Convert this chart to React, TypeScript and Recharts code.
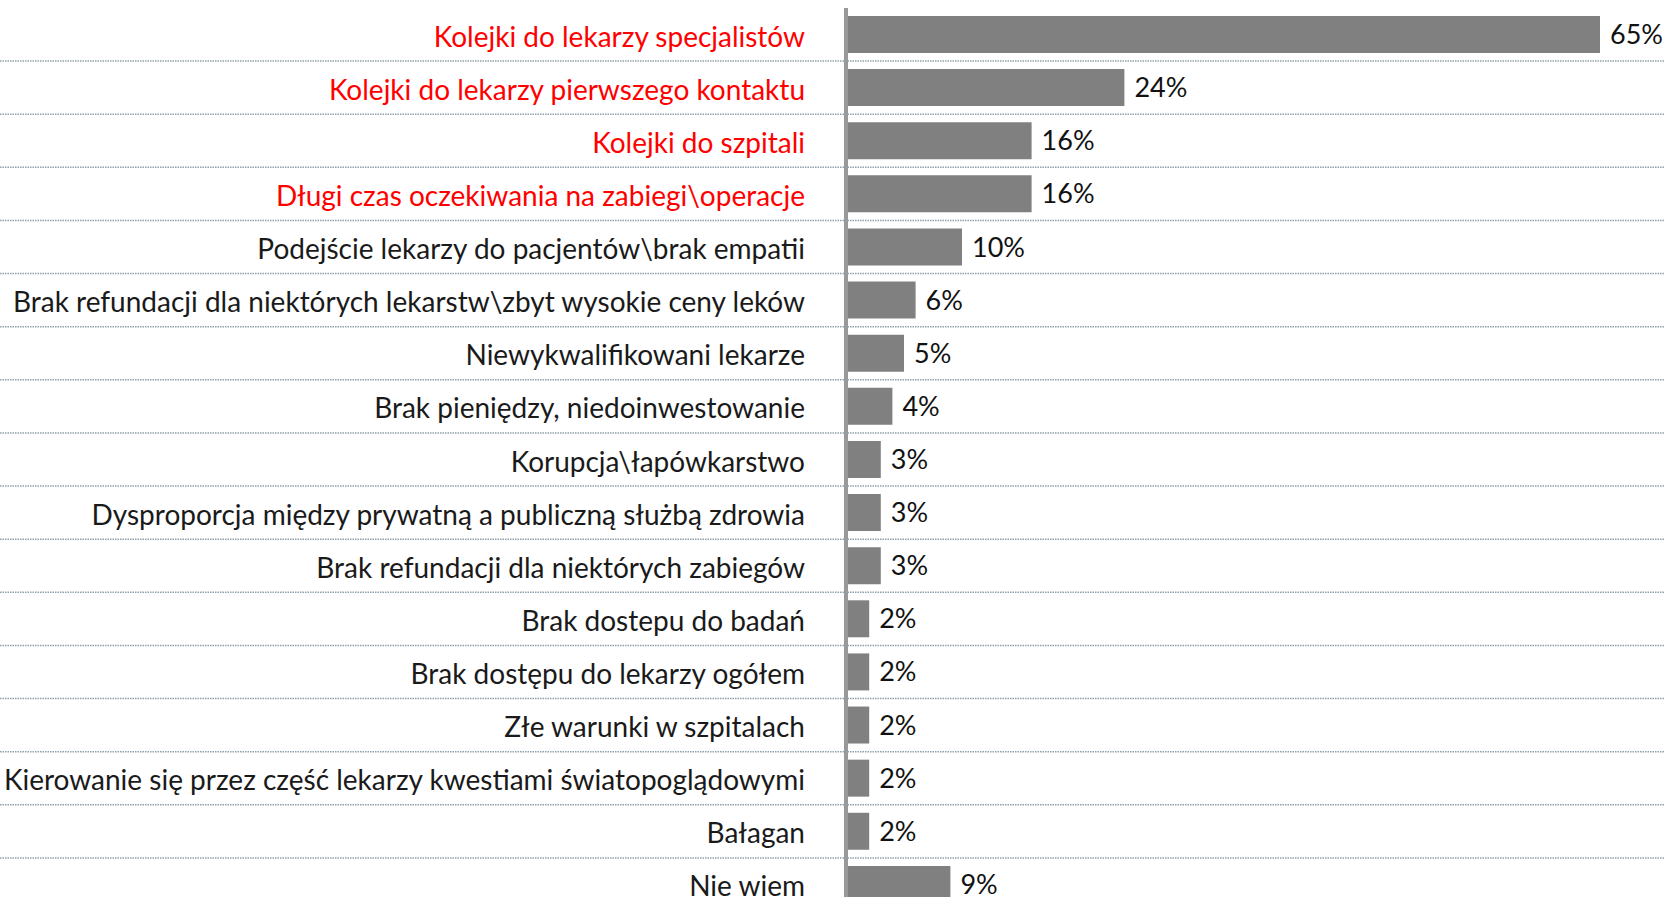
import { BarChart, Bar, XAxis, YAxis, LabelList } from "recharts";

const categories = [
  "Kolejki do lekarzy specjalistów",
  "Kolejki do lekarzy pierwszego kontaktu",
  "Kolejki do szpitali",
  "Długi czas oczekiwania na zabiegi\\operacje",
  "Podejście lekarzy do pacjentów\\brak empatii",
  "Brak refundacji dla niektórych lekarstw\\zbyt wysokie ceny leków",
  "Niewykwalifikowani lekarze",
  "Brak pieniędzy, niedoinwestowanie",
  "Korupcja\\łapówkarstwo",
  "Dysproporcja między prywatną a publiczną służbą zdrowia",
  "Brak refundacji dla niektórych zabiegów",
  "Brak dostepu do badań",
  "Brak dostępu do lekarzy ogółem",
  "Złe warunki w szpitalach",
  "Kierowanie się przez część lekarzy kwestiami światopoglądowymi",
  "Bałagan",
  "Nie wiem",
];

// share of answers, %
const shares = [65, 24, 16, 16, 10, 6, 5, 4, 3, 3, 3, 2, 2, 2, 2, 2, 9];
const valueLabels = shares.map((v) => `${v}%`);

// first four categories are highlighted in the original
const highlighted = 4;

const data = categories.map((name, i) => ({
  name,
  value: shares[i],
  label: valueLabels[i],
}));

const W = 1665;
const H = 911;
const TOP = 8;
const rowH = (H - TOP) / categories.length;
const FONT = "Lato, 'DejaVu Sans', sans-serif";

function CategoryTick(props: any) {
  const { x, y, payload, index } = props;
  const sepY = y + rowH / 2;
  return (
    <g>
      <line
        x1={0}
        x2={W}
        y1={sepY}
        y2={sepY}
        stroke="#8fa1a8"
        strokeWidth={1.5}
        strokeDasharray="1.5 1"
      />
      <text
        x={x - 41}
        y={y}
        dy={12}
        textAnchor="end"
        fontSize={28}
        fontFamily={FONT}
        fill={index < highlighted ? "#ff0000" : "#1a1a1a"}
      >
        {payload.value}
      </text>
    </g>
  );
}

export default function App() {
  return (
    <div
      style={{
        position: "absolute",
        left: 0,
        top: 0,
        width: W,
        height: 897,
        overflow: "hidden",
        background: "#fff",
      }}
    >
      <BarChart
        width={W}
        height={H}
        data={data}
        layout="vertical"
        margin={{ top: TOP, right: 7, bottom: 0, left: 0 }}
      >
        <XAxis type="number" domain={[0, 70]} hide />
        <YAxis
          type="category"
          dataKey="name"
          width={846}
          tickSize={0}
          tickMargin={0}
          tickLine={false}
          axisLine={{ stroke: "#999999", strokeWidth: 4 }}
          tick={<CategoryTick />}
          interval={0}
        />
        <Bar dataKey="value" fill="#808080" barSize={37} isAnimationActive={false}>
          <LabelList
            dataKey="label"
            position="right"
            offset={10}
            fontSize={27}
            fontFamily={FONT}
            fill="#111111"
          />
        </Bar>
      </BarChart>
    </div>
  );
}
